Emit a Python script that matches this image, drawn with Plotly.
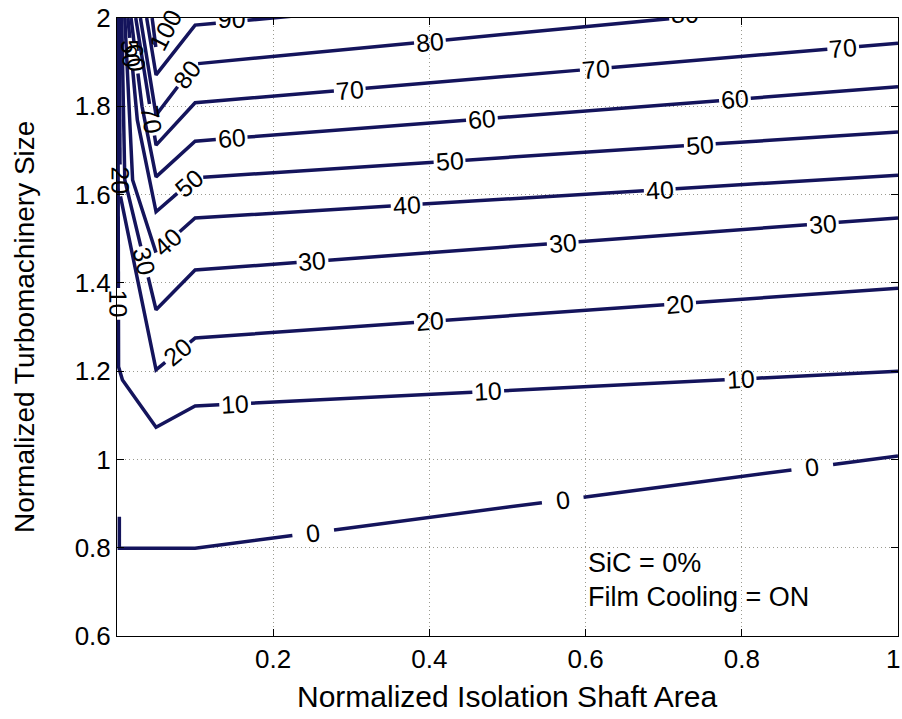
import math
import plotly.graph_objects as go

# Contour levels and their traced paths
# x: normalized isolation shaft area, y: normalized turbomachinery size
levels = [0, 10, 20, 30, 40, 50, 60, 70, 80, 90, 100]

c0_x = [0.003, 0.003, 0.1, 1.0]
c0_y = [0.870, 0.799, 0.799, 1.008]
c10_x = [0.001, 0.002, 0.007, 0.05, 0.1, 1.0]
c10_y = [2.0, 1.21, 1.18, 1.073, 1.121, 1.200]
c20_x = [0.003, 0.004, 0.05, 0.1, 1.0]
c20_y = [2.0, 1.60, 1.203, 1.275, 1.388]
c30_x = [0.006, 0.010, 0.05, 0.1, 1.0]
c30_y = [2.0, 1.633, 1.339, 1.429, 1.547]
c40_x = [0.010, 0.020, 0.05, 0.1, 1.0]
c40_y = [2.0, 1.633, 1.468, 1.547, 1.644]
c50_x = [0.014, 0.026, 0.05, 0.1, 1.0]
c50_y = [2.0, 1.769, 1.561, 1.638, 1.742]
c60_x = [0.018, 0.032, 0.05, 0.1, 1.0]
c60_y = [2.0, 1.80, 1.640, 1.721, 1.844]
c70_x = [0.024, 0.05, 0.1, 1.0]
c70_y = [2.0, 1.712, 1.808, 1.943]
c80_x = [0.030, 0.05, 0.1, 1.0]
c80_y = [2.0, 1.780, 1.896, 2.048]
c90_x = [0.038, 0.05, 0.1, 1.0]
c90_y = [2.0, 1.871, 1.984, 2.13]
c100_x = [0.045, 0.05, 0.085]
c100_y = [2.0, 1.93, 2.05]

x_ticks = [0.2, 0.4, 0.6, 0.8, 1.0]
x_tick_text = ["0.2", "0.4", "0.6", "0.8", "1"]
y_ticks = [0.6, 0.8, 1.0, 1.2, 1.4, 1.6, 1.8, 2.0]
y_tick_text = ["0.6", "0.8", "1", "1.2", "1.4", "1.6", "1.8", "2"]

paths = {
    0: (c0_x, c0_y), 10: (c10_x, c10_y), 20: (c20_x, c20_y),
    30: (c30_x, c30_y), 40: (c40_x, c40_y), 50: (c50_x, c50_y),
    60: (c60_x, c60_y), 70: (c70_x, c70_y), 80: (c80_x, c80_y),
    90: (c90_x, c90_y), 100: (c100_x, c100_y),
}

# Inline label placement: (segment index, fraction along that segment)
label_spots = {
    0: [(2, 0.168), (2, 0.523), (2, 0.878)],
    10: [(0, 0.82), (4, 0.057), (4, 0.417), (4, 0.776)],
    20: [(0, 0.92), (2, 0.55), (3, 0.334), (3, 0.690)],
    30: [(1, 0.63), (3, 0.167), (3, 0.523), (3, 0.893)],
    40: [(2, 0.30), (3, 0.301), (3, 0.661)],
    50: [(0, 0.35), (2, 0.85), (3, 0.362), (3, 0.718)],
    60: [(0, 0.45), (3, 0.052), (3, 0.408), (3, 0.768)],
    70: [(0, 0.80), (2, 0.220), (2, 0.570), (2, 0.922)],
    80: [(1, 0.80), (2, 0.334), (2, 0.697)],
    90: [(2, 0.052)],
    100: [(1, 0.35)],
}

X_RANGE = [0.0, 1.0]
Y_RANGE = [0.6, 2.0]
FIG_W, FIG_H = 902, 719
MARGIN = dict(l=117, r=4, t=18, b=83)
PLOT_W = FIG_W - MARGIN["l"] - MARGIN["r"]
PLOT_H = FIG_H - MARGIN["t"] - MARGIN["b"]
SX = PLOT_W / (X_RANGE[1] - X_RANGE[0])
SY = PLOT_H / (Y_RANGE[1] - Y_RANGE[0])

LINE_COLOR = "#14145c"
FONT = "Liberation Sans, Arial, Helvetica, sans-serif"
LABEL_SIZE = 25
TICK_SIZE = 26


def gap_half(text):
    if len(text) == 1:
        return 21.0
    return len(text) * 0.556 * LABEL_SIZE / 2 + 2.0


def broken_path(xs, ys, cuts):
    """Return the path with gaps (None) cut out around label positions.
    cuts: list of (arc position in px, half width in px)."""
    px = [x * SX for x in xs]
    py = [y * SY for y in ys]
    cum = [0.0]
    for i in range(len(px) - 1):
        cum.append(cum[-1] + math.hypot(px[i + 1] - px[i], py[i + 1] - py[i]))
    total = cum[-1]
    gaps = [(max(0.0, c - h), min(total, c + h)) for c, h in cuts]

    def point_at(s):
        for i in range(len(cum) - 1):
            if cum[i] <= s <= cum[i + 1]:
                seg = cum[i + 1] - cum[i]
                t = 0.0 if seg == 0 else (s - cum[i]) / seg
                return (px[i] + t * (px[i + 1] - px[i])) / SX, (py[i] + t * (py[i + 1] - py[i])) / SY
        return px[-1] / SX, py[-1] / SY

    events = set(cum)
    for a, b in gaps:
        events.add(a)
        events.add(b)
    events = sorted(events)

    def inside(s):
        return any(a < s < b for a, b in gaps)

    out_x, out_y = [], []
    prev = None
    for s in events:
        if inside(s):
            continue
        if prev is not None and inside((prev + s) / 2):
            out_x.append(None)
            out_y.append(None)
        x, y = point_at(s)
        out_x.append(x)
        out_y.append(y)
        prev = s
    return out_x, out_y


fig = go.Figure()
annotations = []
clipped_text = dict(x=[], y=[], text=[])

for lev in levels:
    xs, ys = paths[lev]
    px = [x * SX for x in xs]
    py = [y * SY for y in ys]
    cum = [0.0]
    for i in range(len(px) - 1):
        cum.append(cum[-1] + math.hypot(px[i + 1] - px[i], py[i + 1] - py[i]))
    cuts = []
    text = str(lev)
    for seg, frac in label_spots.get(lev, []):
        lx = xs[seg] + frac * (xs[seg + 1] - xs[seg])
        ly = ys[seg] + frac * (ys[seg + 1] - ys[seg])
        s = cum[seg] + frac * (cum[seg + 1] - cum[seg])
        cuts.append((s, gap_half(text)))
        ang = math.degrees(math.atan2(py[seg + 1] - py[seg], px[seg + 1] - px[seg]))
        if ang > 90:
            ang -= 180
        if ang < -90:
            ang += 180
        if ly + (LABEL_SIZE * 0.4) / SY > Y_RANGE[1]:
            # labels running off the top edge are clipped by the plot area
            clipped_text["x"].append(lx)
            clipped_text["y"].append(ly)
            clipped_text["text"].append(text)
        else:
            annotations.append(dict(
                x=lx, y=ly, text=text, textangle=-ang, showarrow=False,
                xanchor="center", yanchor="middle",
                font=dict(family=FONT, size=LABEL_SIZE, color="black"),
            ))
    bx, by = broken_path(xs, ys, cuts)
    fig.add_trace(go.Scatter(
        x=bx, y=by, mode="lines", line=dict(color=LINE_COLOR, width=3.5),
        hoverinfo="skip", showlegend=False, connectgaps=False,
    ))

fig.add_trace(go.Scatter(
    x=clipped_text["x"], y=clipped_text["y"], text=clipped_text["text"],
    mode="text", textposition="middle center", cliponaxis=True,
    textfont=dict(family=FONT, size=LABEL_SIZE, color="black"),
    hoverinfo="skip", showlegend=False,
))

# Case note
annotations.append(dict(
    x=0.6, y=0.766, xref="x", yref="y", text="SiC = 0%", showarrow=False,
    xanchor="left", yanchor="middle", font=dict(family=FONT, size=27, color="black"),
))
annotations.append(dict(
    x=0.6, y=0.688, xref="x", yref="y", text="Film Cooling = ON", showarrow=False,
    xanchor="left", yanchor="middle", font=dict(family=FONT, size=27, color="black"),
))

# Last x tick label sits at the right edge; anchor it so it stays inside the page
annotations.append(dict(
    x=1.0, y=0, xref="paper", yref="paper", xshift=MARGIN["r"], yshift=-6,
    text=x_tick_text[-1], showarrow=False, xanchor="right", yanchor="top",
    font=dict(family=FONT, size=TICK_SIZE, color="black"),
))

# Axis titles placed in the margins
annotations.append(dict(
    x=0.5, y=-(697 - (FIG_H - MARGIN["b"])) / PLOT_H, xref="paper", yref="paper",
    text="Normalized Isolation Shaft Area", showarrow=False,
    xanchor="center", yanchor="middle", font=dict(family=FONT, size=30, color="black"),
))
annotations.append(dict(
    x=-(MARGIN["l"] - 24) / PLOT_W, y=0.5, xref="paper", yref="paper",
    text="Normalized Turbomachinery Size", textangle=-90, showarrow=False,
    xanchor="center", yanchor="middle", font=dict(family=FONT, size=28, color="black"),
))

axis_common = dict(
    showline=True, linecolor="black", linewidth=1, mirror="ticks",
    ticks="inside", ticklen=7, tickcolor="black", tickwidth=1,
    showgrid=True, gridcolor="#9a9a90", griddash="1px,3px", gridwidth=1,
    zeroline=False, tickfont=dict(family=FONT, size=TICK_SIZE, color="black"),
    automargin=False,
)

fig.update_layout(
    width=FIG_W, height=FIG_H, margin=MARGIN,
    paper_bgcolor="white", plot_bgcolor="white",
    annotations=annotations,
    xaxis=dict(
        range=X_RANGE, tickvals=[0.0] + x_ticks,
        ticktext=[""] + x_tick_text[:-1] + [""],
        **axis_common,
    ),
    yaxis=dict(
        range=Y_RANGE, tickvals=y_ticks, ticktext=y_tick_text,
        **axis_common,
    ),
)

fig.write_html("out.html")
